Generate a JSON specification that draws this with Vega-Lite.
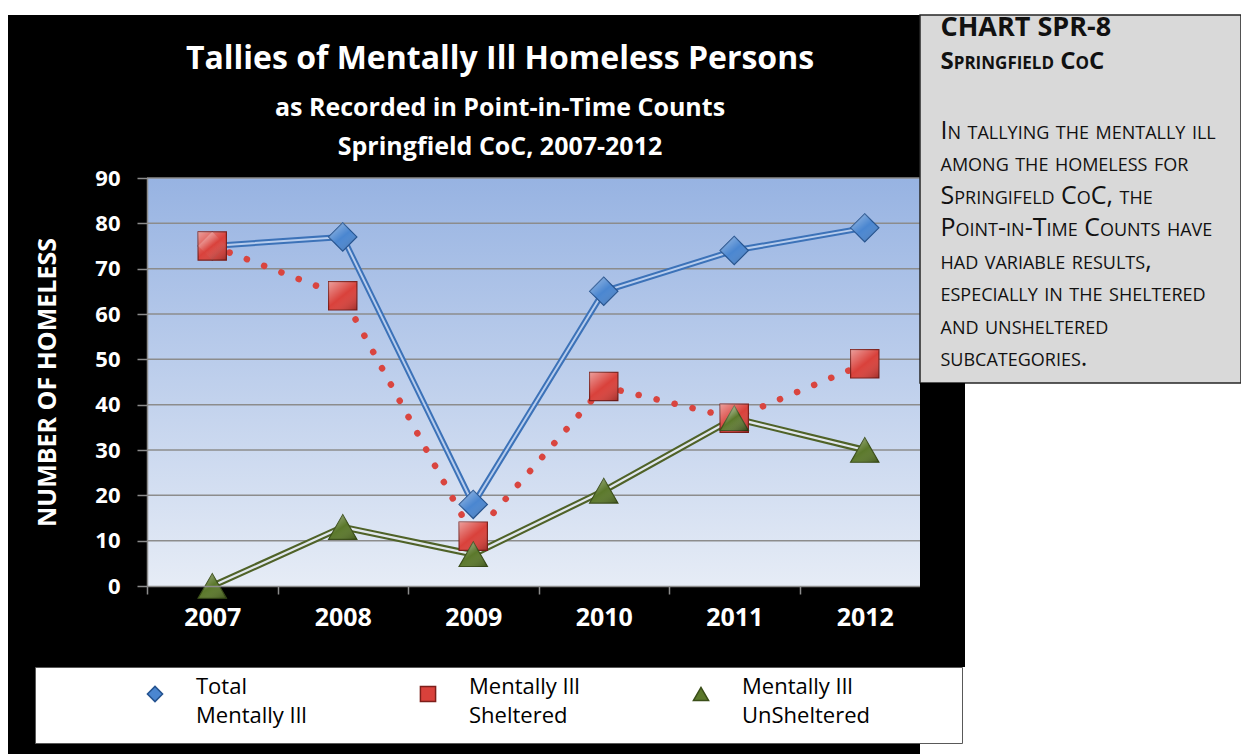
{
  "$schema": "https://vega.github.io/schema/vega-lite/v6.json",
  "background": "white",
  "padding": {"left": 8, "top": 12, "right": 0, "bottom": 0},
  "spacing": 0,
  "bounds": "flush",
  "config": {
    "view": {"stroke": null},
    "font": "Open Sans",
    "style": {
      "smallcaps": {"fontVariant": "small-caps"},
      "guide-label": {"lineHeight": 29}
    }
  },
  "datasets": {
    "counts": [
      {"year": 2007, "series": "Total Mentally Ill", "value": 75},
      {"year": 2008, "series": "Total Mentally Ill", "value": 77},
      {"year": 2009, "series": "Total Mentally Ill", "value": 18},
      {"year": 2010, "series": "Total Mentally Ill", "value": 65},
      {"year": 2011, "series": "Total Mentally Ill", "value": 74},
      {"year": 2012, "series": "Total Mentally Ill", "value": 79},
      {"year": 2007, "series": "Mentally Ill Sheltered", "value": 75},
      {"year": 2008, "series": "Mentally Ill Sheltered", "value": 64},
      {"year": 2009, "series": "Mentally Ill Sheltered", "value": 11},
      {"year": 2010, "series": "Mentally Ill Sheltered", "value": 44},
      {"year": 2011, "series": "Mentally Ill Sheltered", "value": 37},
      {"year": 2012, "series": "Mentally Ill Sheltered", "value": 49},
      {"year": 2007, "series": "Mentally Ill UnSheltered", "value": 0},
      {"year": 2008, "series": "Mentally Ill UnSheltered", "value": 13},
      {"year": 2009, "series": "Mentally Ill UnSheltered", "value": 7},
      {"year": 2010, "series": "Mentally Ill UnSheltered", "value": 21},
      {"year": 2011, "series": "Mentally Ill UnSheltered", "value": 37},
      {"year": 2012, "series": "Mentally Ill UnSheltered", "value": 30}
    ],
    "gridlines": [
      {"level": 10}, {"level": 20}, {"level": 30}, {"level": 40}, {"level": 50},
      {"level": 60}, {"level": 70}, {"level": 80}, {"level": 90}
    ],
    "notes": [
      {"line": 1, "text": "CHART SPR-8"},
      {"line": 2, "text": "Springfield CoC"},
      {"line": 4, "text": "In tallying the mentally ill"},
      {"line": 5, "text": "among the homeless for"},
      {"line": 6, "text": "Springifeld CoC, the"},
      {"line": 7, "text": "Point-in-Time Counts have"},
      {"line": 8, "text": "had variable results,"},
      {"line": 9, "text": "especially in the sheltered"},
      {"line": 10, "text": "and unsheltered"},
      {"line": 11, "text": "subcategories."}
    ]
  },
  "hconcat": [
    {
      "width": 912,
      "height": 742,
      "view": {"fill": "black", "stroke": null},
      "title": {
        "text": "Tallies of Mentally Ill Homeless Persons",
        "subtitle": ["as Recorded in Point-in-Time Counts", "Springfield CoC, 2007-2012"],
        "anchor": "middle",
        "frame": "group",
        "dx": 36,
        "offset": -146,
        "color": "white",
        "font": "Open Sans",
        "fontSize": 32,
        "fontWeight": "bold",
        "subtitleColor": "white",
        "subtitleFont": "Open Sans",
        "subtitleFontSize": 25,
        "subtitleFontWeight": "bold",
        "subtitleLineHeight": 39,
        "subtitlePadding": 20
      },
      "layer": [
        {
          "data": {"name": "counts"},
          "transform": [{"filter": "datum.year == 2007 && datum.series == 'Total Mentally Ill'"}],
          "mark": {
            "type": "rect",
            "stroke": null,
            "fill": {
              "gradient": "linear", "x1": 0, "y1": 0, "x2": 0, "y2": 1,
              "stops": [
                {"offset": 0, "color": "#97b3e2"},
                {"offset": 1, "color": "#e6ecf6"}
              ]
            }
          },
          "encoding": {
            "x": {
              "datum": 2006.5, "type": "quantitative", "title": null,
              "scale": {"domain": [2006.5, 2012.5], "range": [139, 922], "nice": false, "zero": false},
              "axis": {
                "orient": "bottom", "offset": -171, "zindex": 1,
                "values": [2006.5, 2007, 2007.5, 2008, 2008.5, 2009, 2009.5, 2010, 2010.5, 2011, 2011.5, 2012, 2012.5],
                "labelExpr": "datum.value % 1 == 0 ? '' + datum.value : ''",
                "tickOpacity": {"condition": {"test": "datum.value % 1 == 0", "value": 0}, "value": 1},
                "grid": false,
                "domainColor": "#8c8c8c", "domainWidth": 1.5,
                "tickColor": "#8c8c8c", "tickWidth": 1.5, "tickSize": 8,
                "labelColor": "white", "labelFont": "Open Sans", "labelFontSize": 25, "labelFontWeight": "bold",
                "labelPadding": 11, "labelOverlap": false, "labelFlush": false, "labelBound": false
              }
            },
            "x2": {"datum": 2012.5},
            "y": {
              "datum": 0, "type": "quantitative", "title": "NUMBER OF HOMELESS",
              "scale": {"domain": [0, 90], "range": [571, 163], "nice": false, "zero": true},
              "axis": {
                "orient": "left", "offset": -139, "zindex": 1,
                "values": [0, 10, 20, 30, 40, 50, 60, 70, 80, 90],
                "grid": false,
                "domainColor": "#8c8c8c", "domainWidth": 1.5,
                "tickColor": "#8c8c8c", "tickWidth": 1.5, "tickSize": 10,
                "labelColor": "white", "labelFont": "Open Sans", "labelFontSize": 22, "labelFontWeight": "bold",
                "labelPadding": 17,
                "titleColor": "white", "titleFont": "Open Sans", "titleFontSize": 25, "titleFontWeight": "bold",
                "titlePadding": 34
              }
            },
            "y2": {"datum": 90}
          }
        },
        {
          "data": {"name": "gridlines"},
          "mark": {"type": "rule", "stroke": "#8c8c8c", "strokeWidth": 1.5},
          "encoding": {
            "y": {"field": "level", "type": "quantitative", "title": "NUMBER OF HOMELESS"},
            "x": {"datum": 2006.5, "type": "quantitative", "title": null},
            "x2": {"datum": 2012.5}
          }
        },
        {
          "data": {"name": "counts"},
          "transform": [{"filter": "datum.series == 'Total Mentally Ill'"}],
          "mark": {"type": "line", "stroke": "#3c72b8", "strokeWidth": 6},
          "encoding": {
            "x": {"field": "year", "type": "quantitative", "title": null},
            "y": {"field": "value", "type": "quantitative", "title": "NUMBER OF HOMELESS"}
          }
        },
        {
          "data": {"name": "counts"},
          "transform": [{"filter": "datum.series == 'Total Mentally Ill'"}],
          "mark": {"type": "line", "stroke": "#b7cdee", "strokeWidth": 2},
          "encoding": {
            "x": {"field": "year", "type": "quantitative", "title": null},
            "y": {"field": "value", "type": "quantitative", "title": "NUMBER OF HOMELESS"}
          }
        },
        {
          "data": {"name": "counts"},
          "transform": [{"filter": "datum.series == 'Mentally Ill Sheltered'"}],
          "mark": {"type": "line", "stroke": "#d9453f", "strokeWidth": 6.5, "strokeCap": "round", "strokeDash": [0.1, 18.4]},
          "encoding": {
            "x": {"field": "year", "type": "quantitative", "title": null},
            "y": {"field": "value", "type": "quantitative", "title": "NUMBER OF HOMELESS"}
          }
        },
        {
          "data": {"name": "counts"},
          "transform": [{"filter": "datum.series == 'Mentally Ill UnSheltered'"}],
          "mark": {"type": "line", "stroke": "#4f6228", "strokeWidth": 6.5},
          "encoding": {
            "x": {"field": "year", "type": "quantitative", "title": null},
            "y": {"field": "value", "type": "quantitative", "title": "NUMBER OF HOMELESS"}
          }
        },
        {
          "data": {"name": "counts"},
          "transform": [{"filter": "datum.series == 'Mentally Ill UnSheltered'"}],
          "mark": {"type": "line", "stroke": "#e1e7ee", "strokeWidth": 2.3},
          "encoding": {
            "x": {"field": "year", "type": "quantitative", "title": null},
            "y": {"field": "value", "type": "quantitative", "title": "NUMBER OF HOMELESS"}
          }
        },
        {
          "data": {"name": "counts"},
          "mark": {"type": "point", "filled": true, "size": 800, "strokeWidth": 1.2, "opacity": 1},
          "encoding": {
            "x": {"field": "year", "type": "quantitative", "title": null},
            "y": {"field": "value", "type": "quantitative", "title": "NUMBER OF HOMELESS"},
            "color": {
              "field": "series", "type": "nominal",
              "scale": {"domain": ["Total Mentally Ill", "Mentally Ill Sheltered", "Mentally Ill UnSheltered"], "range": ["#4a86d0", "#d9413b", "#5b782b"]},
              "legend": {
                "orient": "none", "legendX": 27, "legendY": 652, "direction": "horizontal", "columns": 3,
                "title": "\u00a0", "titleOrient": "right", "titlePadding": 76, "titleFontSize": 10,
                "fillColor": "white", "strokeColor": "#595959", "padding": 16,
                "symbolSize": 230, "symbolOffset": 93, "labelOffset": 30, "columnPadding": 17,
                "labelFont": "Open Sans", "labelFontSize": 22, "labelColor": "black",
                "labelBaseline": "alphabetic", "labelLimit": 300,
                "labelExpr": "datum.label == 'Total Mentally Ill' ? ['Total', 'Mentally Ill'] : ['Mentally Ill', replace(datum.label, 'Mentally Ill ', '')]"
              }
            },
            "shape": {
              "field": "series", "type": "nominal",
              "scale": {"domain": ["Total Mentally Ill", "Mentally Ill Sheltered", "Mentally Ill UnSheltered"], "range": ["diamond", "square", "triangle-up"]},
              "legend": {
                "orient": "none", "legendX": 27, "legendY": 652, "direction": "horizontal", "columns": 3,
                "title": "\u00a0", "titleOrient": "right", "titlePadding": 76, "titleFontSize": 10,
                "fillColor": "white", "strokeColor": "#595959", "padding": 16,
                "symbolSize": 230, "symbolOffset": 93, "labelOffset": 30, "columnPadding": 17,
                "labelFont": "Open Sans", "labelFontSize": 22, "labelColor": "black",
                "labelBaseline": "alphabetic", "labelLimit": 300,
                "labelExpr": "datum.label == 'Total Mentally Ill' ? ['Total', 'Mentally Ill'] : ['Mentally Ill', replace(datum.label, 'Mentally Ill ', '')]"
              }
            },
            "stroke": {
              "field": "series", "type": "nominal",
              "scale": {"domain": ["Total Mentally Ill", "Mentally Ill Sheltered", "Mentally Ill UnSheltered"], "range": ["#23528f", "#7d1e1a", "#3a4e18"]},
              "legend": null
            }
          }
        },
        {
          "data": {"name": "counts"},
          "mark": {
            "type": "point", "filled": true, "size": 800, "strokeWidth": 0, "opacity": 1,
            "fill": {
              "gradient": "linear", "x1": 0.1, "y1": 0, "x2": 0.9, "y2": 1,
              "stops": [
                {"offset": 0, "color": "rgba(255,255,255,0.45)"},
                {"offset": 0.5, "color": "rgba(255,255,255,0)"},
                {"offset": 1, "color": "rgba(0,0,0,0.22)"}
              ]
            }
          },
          "encoding": {
            "x": {"field": "year", "type": "quantitative", "title": null},
            "y": {"field": "value", "type": "quantitative", "title": "NUMBER OF HOMELESS"},
            "shape": {"field": "series", "type": "nominal"}
          }
        }
      ]
    },
    {
      "spacing": 0,
      "bounds": "flush",
      "vconcat": [
        {
          "width": 321,
          "height": 368,
          "view": {"fill": "#d9d9d9", "stroke": "#262626", "strokeWidth": 1.5},
          "data": {"name": "notes"},
          "encoding": {
            "y": {"field": "line", "type": "quantitative", "scale": {"domain": [4, 11], "range": [116, 343]}, "axis": null}
          },
          "layer": [
            {
              "transform": [{"filter": "datum.line == 1"}],
              "mark": {"type": "text", "align": "left", "baseline": "middle", "dx": -140, "dy": -6, "font": "Open Sans", "fontSize": 27, "fontWeight": "bold", "color": "#111111"},
              "encoding": {"text": {"field": "text"}}
            },
            {
              "transform": [{"filter": "datum.line == 2"}],
              "mark": {"type": "text", "align": "left", "baseline": "middle", "dx": -140, "dy": -4, "font": "Open Sans", "fontSize": 24, "fontWeight": "bold", "color": "#111111", "style": "smallcaps"},
              "encoding": {"text": {"field": "text"}}
            },
            {
              "transform": [{"filter": "datum.line >= 4"}],
              "mark": {"type": "text", "align": "left", "baseline": "middle", "dx": -140, "font": "Open Sans", "fontSize": 25, "color": "#111111", "style": "smallcaps"},
              "encoding": {"text": {"field": "text"}}
            }
          ]
        },
        {
          "width": 45,
          "height": 284,
          "view": {"fill": "black", "stroke": null},
          "data": {"values": []},
          "mark": {"type": "point", "opacity": 0}
        }
      ]
    }
  ]
}
